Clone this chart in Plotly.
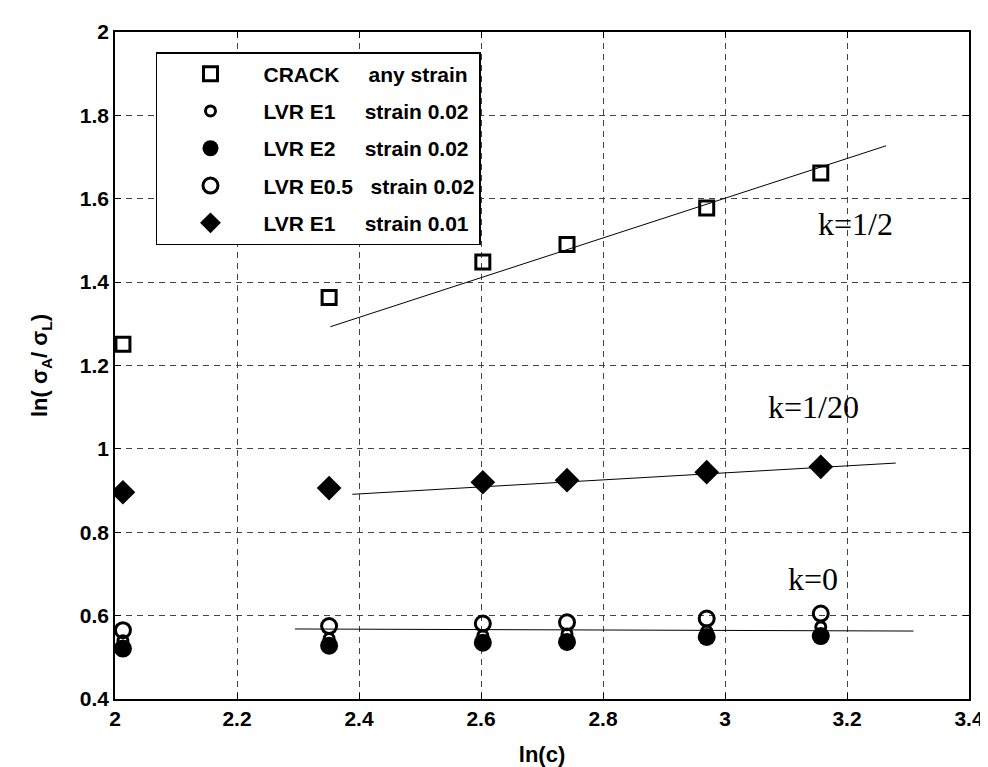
import plotly.graph_objects as go

# ---- data ----
ln_c = [2.013, 2.351, 2.603, 2.741, 2.970, 3.157]

crack_any = [1.251, 1.363, 1.448, 1.490, 1.578, 1.662]
lvr_e1_002 = [0.540, 0.545, 0.552, 0.556, 0.563, 0.573]
lvr_e2_002 = [0.521, 0.528, 0.535, 0.537, 0.549, 0.551]
lvr_e05_002 = [0.565, 0.575, 0.581, 0.584, 0.593, 0.605]
lvr_e1_001 = [0.896, 0.906, 0.920, 0.925, 0.944, 0.957]

fit_half_x = [2.353, 3.264]
fit_half_y = [1.293, 1.727]
fit_20_x = [2.389, 3.280]
fit_20_y = [0.891, 0.966]
fit_0_x = [2.295, 3.309]
fit_0_y = [0.568, 0.563]

x_ticks = [2.0, 2.2, 2.4, 2.6, 2.8, 3.0, 3.2, 3.4]
x_ticktext = ["2", "2.2", "2.4", "2.6", "2.8", "3", "3.2", "3.4"]
y_ticks = [0.4, 0.6, 0.8, 1.0, 1.2, 1.4, 1.6, 1.8, 2.0]
y_ticktext = ["0.4", "0.6", "0.8", "1", "1.2", "1.4", "1.6", "1.8", "2"]

NB = "\u00a0"
labels = [
    "CRACK" + NB * 5 + "any strain",
    "LVR E1" + NB * 5 + "strain 0.02",
    "LVR E2" + NB * 5 + "strain 0.02",
    "LVR E0.5" + NB * 3 + "strain 0.02",
    "LVR E1" + NB * 5 + "strain 0.01",
]

k_labels = ["k=1/2", "k=1/20", "k=0"]
k_x = [3.214, 3.145, 3.145]
k_y = [1.539, 1.100, 0.688]

SANS = "Liberation Sans, Arial, sans-serif"
SERIF = "Liberation Serif, Times New Roman, serif"

fig = go.Figure()

# fit lines
for fx, fy in [(fit_half_x, fit_half_y), (fit_20_x, fit_20_y), (fit_0_x, fit_0_y)]:
    fig.add_trace(go.Scatter(x=fx, y=fy, mode="lines",
                             line=dict(color="black", width=1),
                             showlegend=False, hoverinfo="skip"))

series = [
    (crack_any, dict(symbol="square-open", size=14, color="black", line=dict(width=3, color="black"))),
    (lvr_e1_002, dict(symbol="circle-open", size=10, color="black", line=dict(width=3, color="black"))),
    (lvr_e2_002, dict(symbol="circle", size=18, color="black", line=dict(width=0))),
    (lvr_e05_002, dict(symbol="circle-open", size=15, color="black", line=dict(width=3, color="black"))),
    (lvr_e1_001, dict(symbol="diamond", size=19, color="black", line=dict(width=0))),
]
for i, (vals, mk) in enumerate(series):
    fig.add_trace(go.Scatter(x=ln_c, y=vals, mode="markers", name=labels[i],
                             marker=mk, legendgroup=f"g{i}"))

for t, xx, yy in zip(k_labels, k_x, k_y):
    fig.add_annotation(x=xx, y=yy, text=t, showarrow=False,
                       font=dict(family=SERIF, size=32, color="black"))

axis_common = dict(
    showline=True, linecolor="black", linewidth=1.5, mirror="ticks",
    ticks="inside", ticklen=6, tickcolor="black", tickwidth=1,
    showgrid=True, gridcolor="#444", gridwidth=1, griddash="6px,5px",
    zeroline=False,
    tickfont=dict(family=SANS, size=21, color="black", weight="bold"),
)

fig.update_xaxes(range=[2.0, 3.4], tickvals=x_ticks,
                 ticktext=[f"<b>{t}</b>" for t in x_ticktext],
                 title=dict(text="<b>ln(c)</b>", standoff=18,
                            font=dict(family=SANS, size=22, color="black", weight="bold")),
                 **axis_common)
fig.update_yaxes(range=[0.4, 2.0], tickvals=y_ticks,
                 ticktext=[f"<b>{t}</b>" for t in y_ticktext],
                 title=dict(text="<b>ln( σ<sub>A</sub>/ σ<sub>L</sub>)</b>", standoff=26,
                            font=dict(family=SANS, size=22, color="black", weight="bold")),
                 **axis_common)

fig.update_layout(
    width=988, height=767,
    margin=dict(l=107, r=24, t=17, b=74),
    paper_bgcolor="white", plot_bgcolor="white",
    legend=dict(x=0.048, y=0.970, xanchor="left", yanchor="top",
                bgcolor="white", bordercolor="black", borderwidth=1.5,
                font=dict(family=SANS, size=21, color="black", weight="bold"),
                itemwidth=96, tracegroupgap=7, traceorder="grouped",
                itemsizing="trace"),
    showlegend=True,
)

fig.write_html("out.html")
